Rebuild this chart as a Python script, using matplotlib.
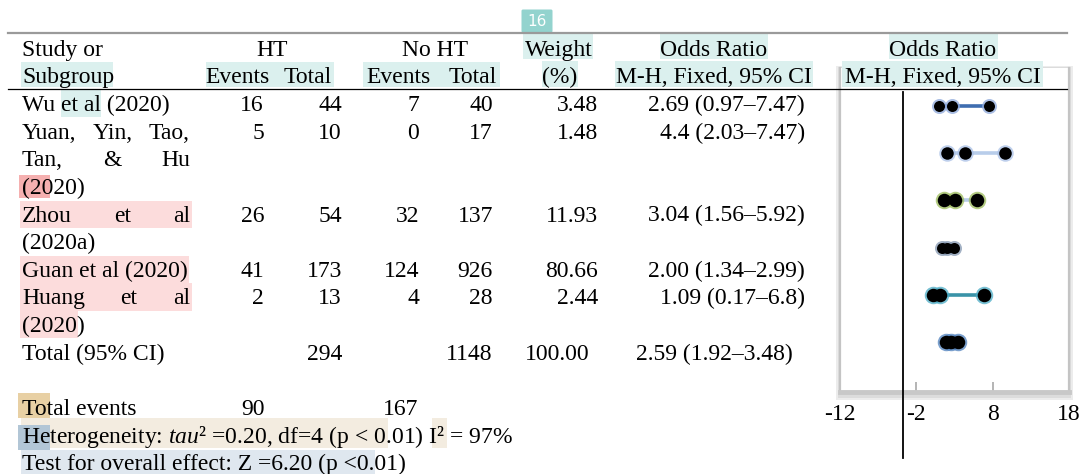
import matplotlib
matplotlib.use("Agg")
import matplotlib.pyplot as plt
from matplotlib.patches import Rectangle, FancyBboxPatch

plt.rcParams['font.family'] = ['Liberation Serif', 'DejaVu Serif']
plt.rcParams['mathtext.fontset'] = 'custom'
plt.rcParams['mathtext.rm'] = 'Liberation Serif'
plt.rcParams['mathtext.it'] = 'Liberation Serif:italic'

# ---------------- data ----------------
study_lines = [["Wu et al (2020)"],
               ["Yuan, Yin, Tao,", "Tan, & Hu", "(2020)"],
               ["Zhou et al", "(2020a)"],
               ["Guan et al (2020)"],
               ["Huang et al", "(2020)"]]
ht_events = [16, 5, 26, 41, 2]
ht_total = [44, 10, 54, 173, 13]
noht_events = [7, 0, 32, 124, 4]
noht_total = [40, 17, 137, 926, 28]
weights = ["3.48", "1.48", "11.93", "80.66", "2.44"]
or_labels = ["2.69 (0.97\u20137.47)", "4.4 (2.03\u20137.47)", "3.04 (1.56\u20135.92)",
             "2.00 (1.34\u20132.99)", "1.09 (0.17\u20136.8)"]
total_label = "Total (95% CI)"
total_ht = 294
total_noht = 1148
total_weight = "100.00"
total_or = "2.59 (1.92\u20133.48)"
events_ht = 90
events_noht = 167
heterogeneity = "Heterogeneity: $\\mathit{tau}$\u00b2 =0.20, df=4 (p < 0.01) I\u00b2 = 97%"
overall = "Test for overall effect: Z =6.20 (p <0.01)"

# forest plot values (as drawn)
plot_lo = [0.97, 2.03, 1.56, 1.34, 0.17, 1.92]
plot_or = [2.69, 4.4, 3.04, 2.00, 1.09, 2.59]
plot_hi = [7.47, 9.6, 5.92, 2.99, 6.8, 3.48]
ref_x = -3.75
x_ticks = [-12, -2, 8, 18]
x_tick_labels = ["-12", "-2", "8", "18"]

# ---------------- styles ----------------
line_colors = ['#3f6db0', '#b8cdea', '#b8cdea', '#8497b0', '#3a93a8', '#4f81bd']
halo_colors = ['#8ea9db', '#a9c0e6', '#9bbb59', '#8497b0', '#4bacc6', '#4f81bd']
dot_px = [11, 12.5, 13.5, 11, 13.5, 13.5]

FS = 17
W, H = 1082, 474
fig = plt.figure(figsize=(W / 100, H / 100), dpi=100)

# shadow layer
under = fig.add_axes([0, 0, 1, 1], zorder=0)
under.set_xlim(0, W); under.set_ylim(H, 0); under.axis('off')
under.add_patch(Rectangle((836, 66), 237, 334, facecolor='#ececec', edgecolor='none'))
under.add_patch(Rectangle((838, 67), 233, 331, facecolor='#dcdcdc', edgecolor='none'))

# forest axes
ax_left, ax_right, ax_top, ax_bot = 840, 1069, 68, 392
ax = fig.add_axes([ax_left / W, (H - ax_bot) / H, (ax_right - ax_left) / W, (ax_bot - ax_top) / H], zorder=1)
ax.set_facecolor('white')
ax.set_xlim(x_ticks[0], x_ticks[-1])
ax.set_ylim(6.06, -0.805)
for i in range(len(plot_or)):
    ax.plot([plot_lo[i], plot_hi[i]], [i, i], color=line_colors[i], lw=2.6,
            solid_capstyle='butt', zorder=2)
    ms_black = dot_px[i] * 0.72
    ms_halo = (dot_px[i] + 4) * 0.72
    for v in (plot_lo[i], plot_or[i], plot_hi[i]):
        ax.plot([v], [i], 'o', ms=ms_halo, color=halo_colors[i], alpha=0.75, mew=0, zorder=3)
    for v in (plot_lo[i], plot_or[i], plot_hi[i]):
        ax.plot([v], [i], 'o', ms=ms_black, color='black', mew=0, zorder=4)
ax.axvline(ref_x, ymin=(ax_bot - 458) / (ax_bot - ax_top), ymax=(ax_bot - 92) / (ax_bot - ax_top),
           color='black', lw=1.3, clip_on=False, zorder=5)
ax.set_yticks([])
ax.set_xticks(x_ticks)
ax.set_xticklabels(x_tick_labels, fontsize=FS)
ax.tick_params(axis='x', direction='in', length=7, width=1.2, color='#a8a8a8', pad=9)
ax.spines['top'].set_visible(False)
for s in ('left', 'right'):
    ax.spines[s].set_color('#c4c4c4')
    ax.spines[s].set_linewidth(1.6)
ax.spines['bottom'].set_color('#c8c8c8')
ax.spines['bottom'].set_linewidth(3.5)

# table layer
bg = fig.add_axes([0, 0, 1, 1], zorder=2)
bg.set_xlim(0, W); bg.set_ylim(H, 0); bg.axis('off')
bg.patch.set_alpha(0)

teal = '#dbf0ee'
pink = '#fcdcdc'
rects = [
    (21, 62, 113, 87, teal), (61, 90, 101, 117, teal), (206, 62, 334, 87, teal),
    (363, 62, 500, 87, teal), (523, 33, 593, 59, teal), (542, 61, 578, 87, teal),
    (660, 33, 768, 59, teal), (615, 61, 813, 87, teal), (889, 33, 998, 59, teal),
    (842, 61, 1043, 87, teal),
    (20, 201, 192, 228, pink), (20, 256, 189, 283, pink), (20, 283, 192, 311, pink),
    (20, 311, 78, 338, pink), (19, 175, 50, 198, '#f5b0b0'),
    (21, 418, 388, 448, '#f3ece0'), (432, 418, 447, 448, '#f3ece0'),
    (18, 393, 50, 418, '#e8d0a4'), (21, 450, 375, 474, '#dfe7ef'),
    (18, 425, 50, 450, '#b2c6d6'),
]
for x0, y0, x1, y1, c in rects:
    bg.add_patch(Rectangle((x0, y0), x1 - x0, y1 - y0, facecolor=c, edgecolor='none', zorder=0))
bg.add_patch(FancyBboxPatch((523, 11), 28, 20, boxstyle='round,pad=1.5',
                            facecolor='#93d3ce', edgecolor='none', zorder=1))
bg.text(537, 21.5, "16", color='white', fontsize=11, family='DejaVu Sans',
        ha='center', va='center', zorder=2)

# rules
bg.plot([8, 1067], [33, 33], color='#9a9a9a', lw=1.6, zorder=1)
bg.plot([8, 1067], [88.5, 88.5], color='black', lw=0.9, zorder=1)

pitch = 27.65
y0c = 47.8
def base(line):
    return y0c + pitch * line + 7.8

def txt(x, line, s, ha='left', **kw):
    return bg.text(x, base(line), s, ha=ha, va='baseline', fontsize=FS, zorder=3, **kw)

# headers
txt(22, 0, "Study or"); txt(22, 1, "Subgroup")
txt(272, 0, "HT", ha='center'); txt(435, 0, "No HT", ha='center')
txt(237.5, 1, "Events", ha='center'); txt(308, 1, "Total", ha='center')
txt(398, 1, "Events", ha='center'); txt(472.5, 1, "Total", ha='center')
txt(559, 0, "Weight", ha='center'); txt(559.5, 1, "(%)", ha='center')
txt(714, 0, "Odds Ratio", ha='center'); txt(714, 1, "M-H, Fixed, 95% CI", ha='center')
txt(943, 0, "Odds Ratio", ha='center'); txt(943, 1, "M-H, Fixed, 95% CI", ha='center')

renderer = fig.canvas.get_renderer()
name_left, name_right = 22, 190

def justified(line, s):
    words = s.split(' ')
    ts = [txt(0, line, w) for w in words]
    widths = [t.get_window_extent(renderer).width for t in ts]
    gap = (name_right - name_left - sum(widths)) / (len(words) - 1)
    x = name_left
    for t, w in zip(ts, widths):
        t.set_x(x)
        x += w + gap

col_ht_ev, col_ht_tot, col_no_ev, col_no_tot, col_w, col_or = 264, 342, 419, 493, 598, 805
line = 2
for k, lines in enumerate(study_lines):
    first = line
    for j, s in enumerate(lines):
        if j < len(lines) - 1:
            justified(line, s)
        else:
            txt(name_left, line, s)
        line += 1
    txt(col_ht_ev, first, str(ht_events[k]), ha='right')
    txt(col_ht_tot, first, str(ht_total[k]), ha='right')
    txt(col_no_ev, first, str(noht_events[k]), ha='right')
    txt(col_no_tot, first, str(noht_total[k]), ha='right')
    txt(col_w, first, weights[k], ha='right')
    txt(col_or, first, or_labels[k], ha='right')

txt(name_left, line, total_label)
txt(col_ht_tot, line, str(total_ht), ha='right')
txt(col_no_tot - 1, line, str(total_noht), ha='right')
txt(col_w - 8, line, total_weight, ha='right')
txt(col_or - 12, line, total_or, ha='right')
line += 2
txt(name_left, line, "Total events")
txt(col_ht_ev + 1, line, str(events_ht), ha='right')
txt(col_no_ev - 1, line, str(events_noht), ha='right')
line += 1
txt(name_left, line, heterogeneity)
line += 1
txt(name_left, line, overall)

fig.savefig("out.png", dpi=100)
